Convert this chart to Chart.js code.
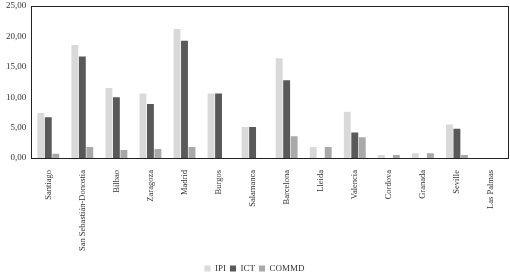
<!DOCTYPE html>
<html>
<head>
<meta charset="utf-8">
<script src="https://cdn.jsdelivr.net/npm/chart.js@4.4.0/dist/chart.umd.min.js"></script>
<style>
  html, body { margin: 0; padding: 0; background: #fff; }
  #wrap { width: 510px; height: 278px; }
</style>
</head>
<body>
<div id="wrap"><canvas id="myChart"></canvas></div>
<script>
// data block
const cities = ["Santiago", "San Sebastián-Donostia", "Bilbao", "Zaragoza", "Madrid", "Burgos",
  "Salamanca", "Barcelona", "Lleida", "Valencia", "Cordova", "Granada", "Seville", "Las Palmas"];
const ipi = [7.4, 18.6, 11.5, 10.6, 21.2, 10.6, 5.1, 16.4, 1.8, 7.6, 0.5, 0.8, 5.5, 0];
const ict = [6.7, 16.7, 10.0, 8.9, 19.3, 10.6, 5.1, 12.8, 0, 4.2, 0, 0, 4.8, 0];
const commd = [0.7, 1.8, 1.3, 1.5, 1.8, 0, 0, 3.6, 1.8, 3.4, 0.5, 0.8, 0.5, 0];
const yTicks = [0, 5, 10, 15, 20, 25];

const font = "'Liberation Serif', 'DejaVu Serif', serif";
Chart.defaults.font.family = font;
Chart.defaults.color = "#333";

// box around plot area
const frame = {
  id: "frame",
  afterDraw: (chart) => {
    const { ctx, chartArea: { left, top, width, height } } = chart;
    ctx.save();
    ctx.strokeStyle = "#222";
    ctx.lineWidth = 1;
    ctx.strokeRect(Math.round(left) + 0.5, Math.round(top) + 0.5, Math.round(width), Math.round(height));
    ctx.restore();
  },
};

const mkSet = (label, values, color) => ({
  label: label,
  data: values,
  backgroundColor: color,
  borderWidth: 0,
  barPercentage: 0.92,
  categoryPercentage: 0.66,
});

const config = {
  type: "bar",
  data: {
    labels: cities,
    datasets: [
      mkSet("IPI", ipi, "#d9d9d9"),
      mkSet("ICT", ict, "#595959"),
      mkSet("COMMD", commd, "#a9a9a9"),
    ],
  },
  options: {
    responsive: true,
    maintainAspectRatio: false,
    animation: false,
    layout: { padding: { top: 6, right: 2, left: 1, bottom: -5 } },
    plugins: {
      tooltip: { enabled: false },
      legend: {
        position: "bottom",
        labels: {
          boxWidth: 6,
          boxHeight: 6,
          padding: 4,
          font: { size: 9 },
        },
      },
    },
    scales: {
      x: {
        grid: { display: false },
        border: { display: false },
        afterFit: (axis) => { axis.height += 5; },
        ticks: {
          autoSkip: false,
          minRotation: 90,
          maxRotation: 90,
          padding: 4,
          font: { size: 8.5 },
        },
      },
      y: {
        min: 0,
        max: 25,
        grid: { display: false, drawTicks: false },
        border: { display: false },
        afterBuildTicks: (axis) => { axis.ticks = yTicks.map((v) => ({ value: v })); },
        afterFit: (axis) => { axis.paddingTop = 0; axis.paddingBottom = 0; },
        ticks: {
          padding: 5,
          font: { size: 9 },
          callback: (v) => Number(v).toFixed(2).replace(".", ","),
        },
      },
    },
  },
  plugins: [frame],
};

const myChart = new Chart(document.getElementById("myChart"), config);
</script>
</body>
</html>
